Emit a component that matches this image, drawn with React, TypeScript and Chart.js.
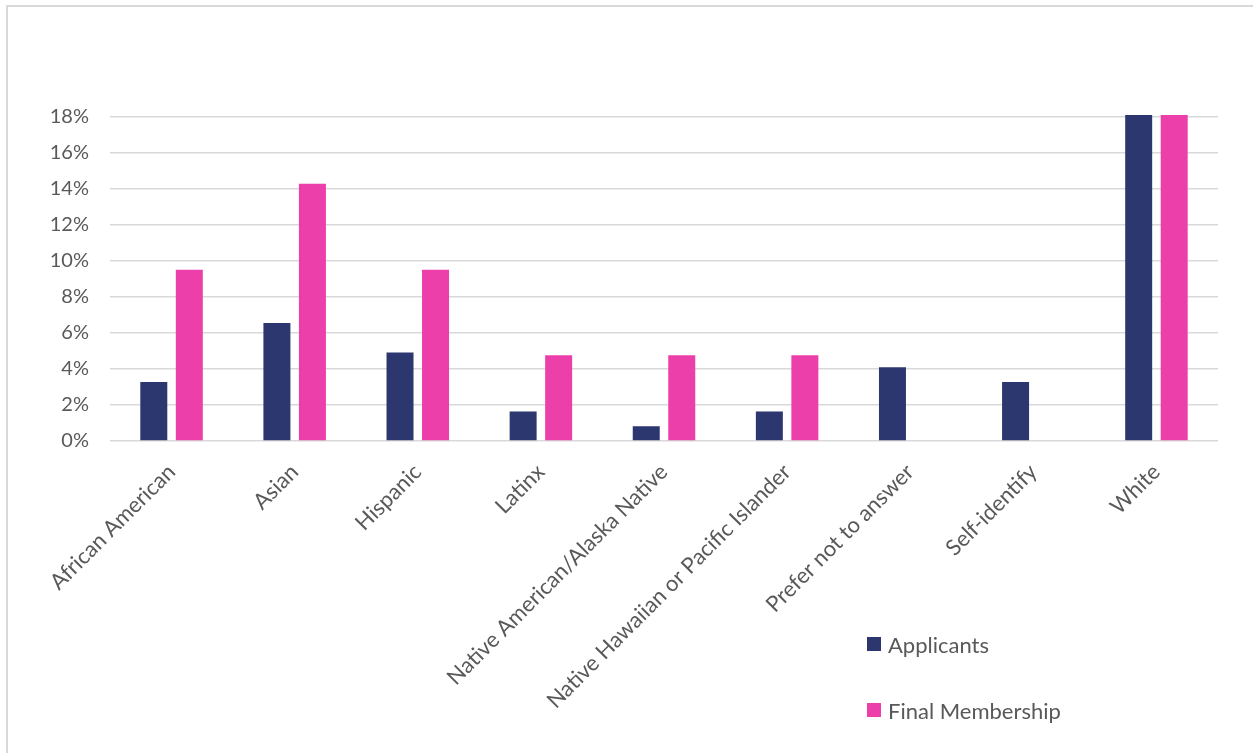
import React, { useEffect, useRef } from "react";
import { Chart, registerables } from "chart.js";

Chart.register(...registerables);

const categories = [
  "African American",
  "Asian",
  "Hispanic",
  "Latinx",
  "Native American/Alaska Native",
  "Native Hawaiian or Pacific Islander",
  "Prefer not to answer",
  "Self-identify",
  "White",
];
const applicants = [3.28, 6.56, 4.92, 1.64, 0.82, 1.64, 4.1, 3.28, 73.8];
const finalMembership = [9.52, 14.29, 9.52, 4.76, 4.76, 4.76, 0, 0, 52.38];
const seriesNames = ["Applicants", "Final Membership"];
const seriesColors = ["#2d376f", "#ec3fa9"];
const yMax = 18;
const yStep = 2;

const FONT = "Lato, 'Open Sans', sans-serif";
const TEXT = "#595959";

export default function App() {
  const ref = useRef<HTMLCanvasElement | null>(null);

  useEffect(() => {
    if (!ref.current) return;
    const chart = new Chart(ref.current, {
      type: "bar",
      data: {
        labels: categories,
        datasets: [
          {
            label: seriesNames[0],
            data: applicants,
            backgroundColor: seriesColors[0],
            categoryPercentage: 0.577,
            barPercentage: 0.76,
            clip: 2,
          },
          {
            label: seriesNames[1],
            data: finalMembership,
            backgroundColor: seriesColors[1],
            categoryPercentage: 0.577,
            barPercentage: 0.76,
            clip: 2,
          },
        ],
      },
      options: {
        responsive: false,
        animation: false,
        layout: { padding: { top: 117, right: 35, left: 0, bottom: 0 } },
        plugins: { legend: { display: false }, tooltip: { enabled: false } },
        scales: {
          x: {
            grid: { display: false },
            border: { display: false },
            ticks: {
              color: TEXT,
              font: { family: FONT, size: 22 },
              maxRotation: 45,
              minRotation: 45,
              autoSkip: false,
              padding: 10,
            },
            afterFit: (s: any) => {
              s.height = 753 - 441;
            },
          },
          y: {
            min: 0,
            max: yMax,
            grid: { color: "#d9d9d9", lineWidth: 1.5, drawTicks: false },
            border: { display: false },
            ticks: {
              stepSize: yStep,
              color: TEXT,
              padding: 21,
              font: { family: FONT, size: 20 },
              callback: (v: any) => `${v}%`,
            },
            afterFit: (s: any) => {
              s.width = 110;
            },
          },
        },
      },
    });
    return () => chart.destroy();
  }, []);

  return (
    <div
      style={{
        position: "fixed",
        left: 0,
        top: 0,
        width: 1253,
        height: 753,
        background: "#fff",
        overflow: "hidden",
      }}
    >
      <div
        style={{
          position: "absolute",
          left: 6,
          top: 5,
          width: 1300,
          height: 800,
          border: "2px solid #d9d9d9",
          boxSizing: "border-box",
        }}
      />
      <canvas
        ref={ref}
        width={1253}
        height={753}
        style={{ position: "absolute", left: 0, top: 0 }}
      />
      {seriesNames.map((name, i) => (
        <div
          key={name}
          style={{
            position: "absolute",
            left: 867,
            top: 630 + i * 66,
            height: 28,
            display: "flex",
            alignItems: "center",
            fontFamily: FONT,
            fontSize: 22,
            color: TEXT,
            whiteSpace: "nowrap",
          }}
        >
          <span
            style={{
              display: "inline-block",
              width: 14,
              height: 14,
              background: seriesColors[i],
              marginRight: 7,
            }}
          />
          {name}
        </div>
      ))}
    </div>
  );
}
